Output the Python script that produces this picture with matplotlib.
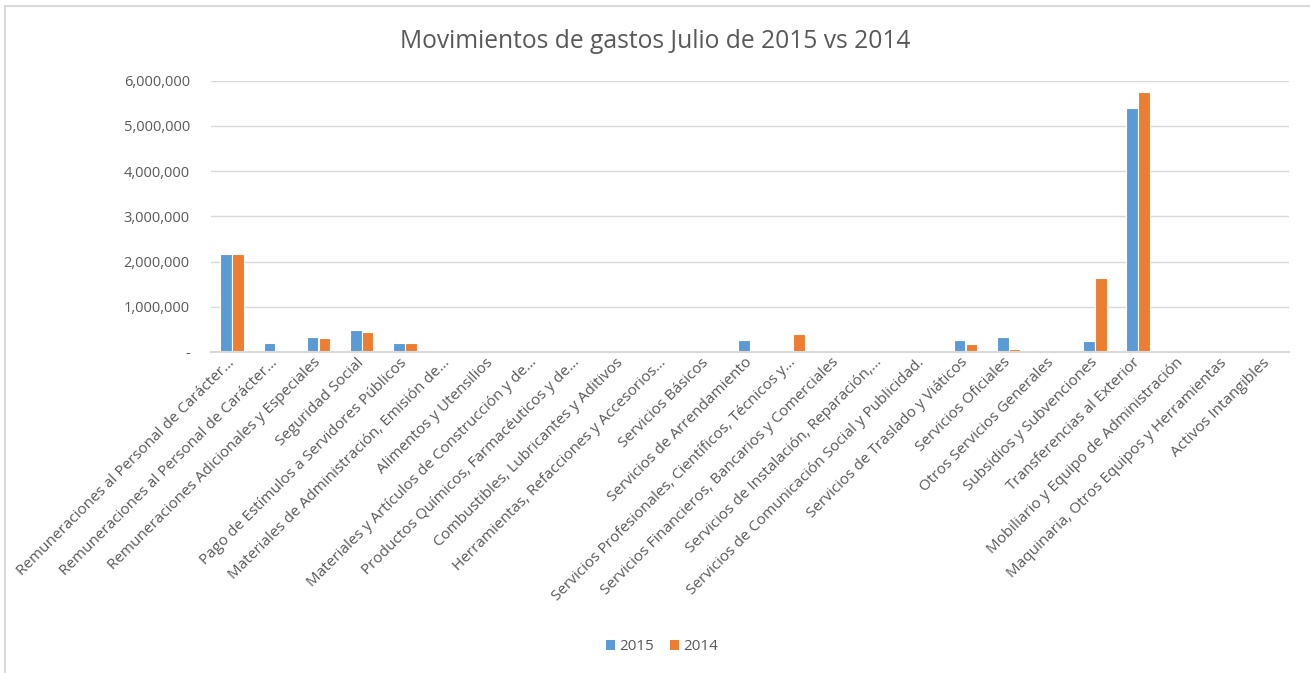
import matplotlib
matplotlib.use("Agg")
import matplotlib.pyplot as plt
import numpy as np
from matplotlib.patches import Rectangle, Patch
from matplotlib.ticker import FuncFormatter

plt.rcParams['font.family'] = ['Open Sans', 'DejaVu Sans']

categories = [
    "Remuneraciones al Personal de Carácter…",
    "Remuneraciones al Personal de Carácter…",
    "Remuneraciones Adicionales y Especiales",
    "Seguridad Social",
    "Pago de Estímulos a Servidores Públicos",
    "Materiales de Administración, Emisión de…",
    "Alimentos y Utensilios",
    "Materiales y Artículos de Construcción y de…",
    "Productos Químicos, Farmacéuticos y de…",
    "Combustibles, Lubricantes y Aditivos",
    "Herramientas, Refacciones y Accesorios…",
    "Servicios Básicos",
    "Servicios de Arrendamiento",
    "Servicios Profesionales, Científicos, Técnicos y…",
    "Servicios Financieros, Bancarios y Comerciales",
    "Servicios de Instalación, Reparación,…",
    "Servicios de Comunicación Social y Publicidad.",
    "Servicios de Traslado y Viáticos",
    "Servicios Oficiales",
    "Otros Servicios Generales",
    "Subsidios y Subvenciones",
    "Transferencias al Exterior",
    "Mobiliario y Equipo de Administración",
    "Maquinaria, Otros Equipos y Herramientas",
    "Activos Intangibles",
]

values_2015 = [2170000, 200000, 340000, 480000, 200000, 0, 0, 0, 0, 0, 0, 0,
               270000, 45000, 25000, 0, 0, 260000, 340000, 0, 250000, 5390000,
               50000, 0, 0]
values_2014 = [2160000, 0, 315000, 450000, 200000, 30000, 0, 0, 0, 0, 0, 0,
               30000, 400000, 0, 0, 15000, 180000, 65000, 0, 1630000, 5750000,
               0, 0, 0]

series_names = ["2015", "2014"]
colors = ["#5B9BD5", "#ED7D31"]
title = "Movimientos de gastos Julio de 2015 vs 2014"

W, H = 1310, 673
fig = plt.figure(figsize=(W / 100, H / 100), dpi=100)
ax = fig.add_axes([210.7 / W, 1 - 352 / H, (1289 - 210.7) / W, (352 - 80.7) / H])

x = np.arange(len(categories))
bw = 0.27
off = 0.138
ax.bar(x - off, values_2015, width=bw, color=colors[0], edgecolor='white', linewidth=0.8, zorder=3)
ax.bar(x + off, values_2014, width=bw, color=colors[1], edgecolor='white', linewidth=0.8, zorder=3)

ax.set_xlim(-0.5, len(categories) - 0.5)
ax.set_ylim(0, 6000000)
ax.set_yticks(np.arange(0, 6000001, 1000000))
ax.yaxis.set_major_formatter(FuncFormatter(lambda v, p: "-" if v == 0 else f"{int(v):,}"))
ax.grid(axis='y', color='#D9D9D9', linewidth=1, zorder=0)
for s in ['top', 'right', 'left']:
    ax.spines[s].set_visible(False)
ax.spines['bottom'].set_color('#D9D9D9')
ax.spines['bottom'].set_linewidth(1.5)
ax.spines['bottom'].set_zorder(4)

ax.tick_params(axis='y', length=0, pad=15, labelsize=10.5, labelcolor='#595959')
ax.tick_params(axis='x', length=0, pad=6, labelsize=11, labelcolor='#595959')
ax.set_xticks(x)
ax.set_xticklabels(categories, rotation=45, ha='right', rotation_mode='anchor', va='center')

fig.text(0.5, 1 - 42 / H, title, ha='center', va='center', fontsize=17.7, color='#595959')

handles = [Patch(facecolor=c, edgecolor='none') for c in colors]
fig.legend(handles, series_names, loc='center', bbox_to_anchor=(662 / W, 1 - 647 / H), ncol=2,
           frameon=False, fontsize=11, labelcolor='#595959', handlelength=0.6, handleheight=0.6,
           handletextpad=0.3, columnspacing=1.0)

fig.add_artist(Rectangle((5 / W, -0.1), 1.2, 1.1 - 6 / H, transform=fig.transFigure,
                         fill=False, edgecolor='#D9D9D9', linewidth=1.5))

fig.savefig("out.png", dpi=100)
